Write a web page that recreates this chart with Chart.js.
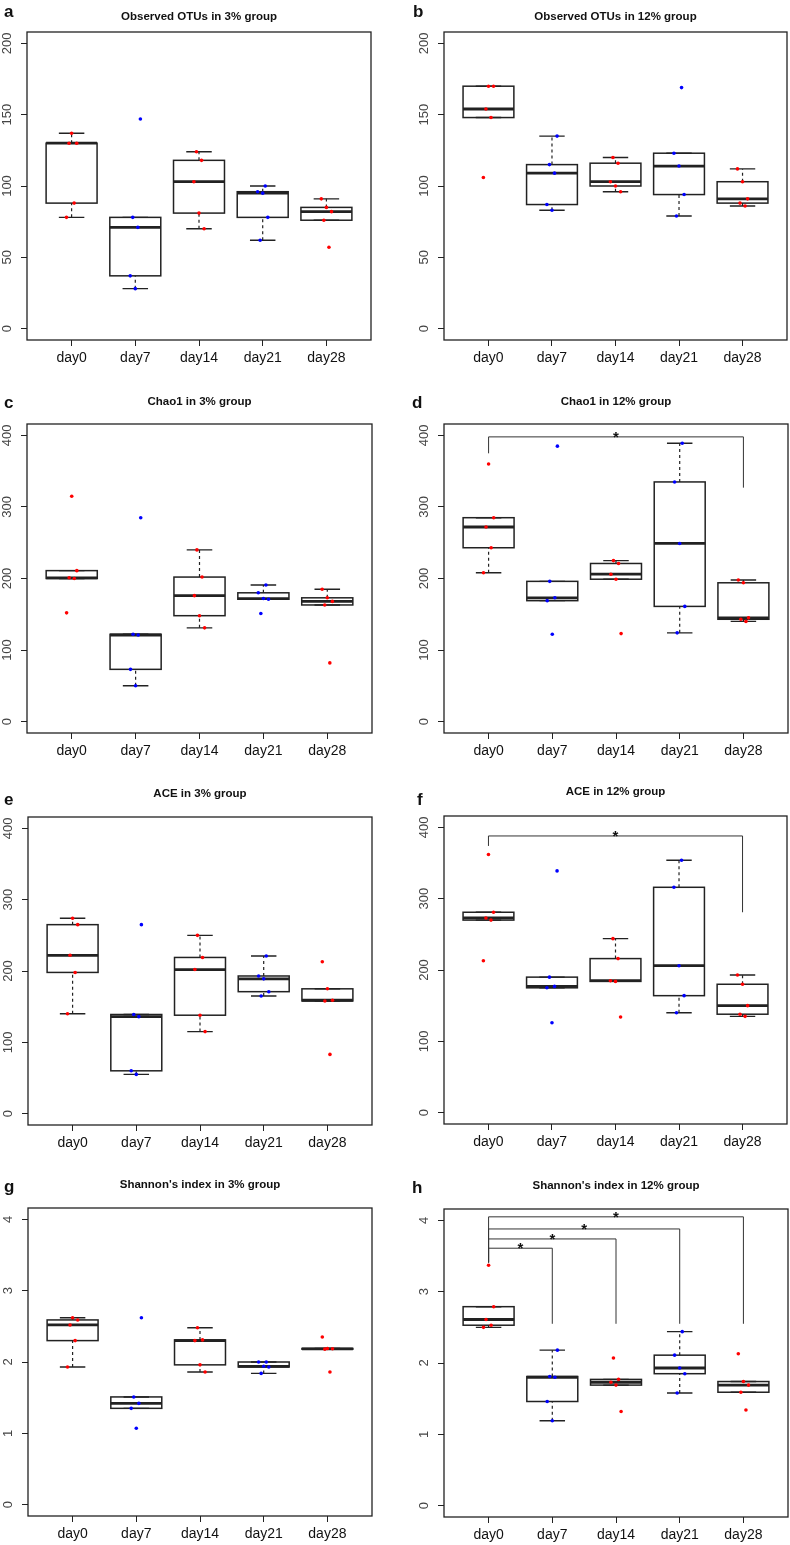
<!DOCTYPE html>
<html>
<head>
<meta charset="utf-8">
<script src="https://cdn.jsdelivr.net/npm/chart.js@4.4.1/dist/chart.umd.min.js"></script>
<style>
  html, body { margin: 0; padding: 0; background: #fff; }
  #fig { position: relative; width: 790px; height: 1545px; overflow: hidden; }
  #fig canvas { position: absolute; }
</style>
</head>
<body>
<div id="fig"></div>
<script>
// Categorias y ticks
const days = ['day0', 'day7', 'day14', 'day21', 'day28'];
const countTicks = [0, 50, 100, 150, 200];
const richTicks = [0, 100, 200, 300, 400];
const shannonTicks = [0, 1, 2, 3, 4];

// Valores por muestra (5 por dia)
const otus3 = [
    [78, 88, 130, 130, 137],
    [28, 37, 71, 78, 147],
    [70, 81, 103, 118, 124],
    [62, 78, 95, 96, 100],
    [57, 76, 82, 85, 91]
];
const otus12 = [
    [106, 148, 154, 170, 170],
    [83, 87, 109, 115, 135],
    [96, 100, 103, 116, 120],
    [79, 94, 114, 123, 169],
    [86, 88, 91, 103, 112]
];
const chao3 = [
    [152, 200, 201, 211, 315],
    [50, 73, 121, 122, 285],
    [131, 148, 176, 202, 240],
    [151, 171, 172, 180, 191],
    [82, 163, 168, 173, 185]
];
const chao12 = [
    [208, 243, 272, 285, 360],
    [122, 169, 173, 196, 385],
    [123, 199, 206, 221, 225],
    [124, 161, 249, 335, 389],
    [140, 143, 145, 194, 198]
];
const ace3 = [
    [140, 198, 222, 265, 274],
    [55, 60, 136, 139, 265],
    [115, 138, 202, 219, 250],
    [165, 171, 189, 193, 221],
    [83, 158, 159, 175, 213]
];
const ace12 = [
    [213, 270, 273, 281, 362],
    [126, 175, 177, 190, 339],
    [134, 184, 185, 216, 244],
    [140, 164, 206, 316, 354],
    [135, 138, 150, 180, 193]
];
const shannon3 = [
    [1.93, 2.30, 2.52, 2.59, 2.62],
    [1.07, 1.35, 1.42, 1.51, 2.62],
    [1.86, 1.96, 2.30, 2.31, 2.48],
    [1.84, 1.93, 1.94, 2.00, 2.00],
    [1.86, 2.18, 2.185, 2.19, 2.35]
];
const shannon12 = [
    [2.50, 2.53, 2.61, 2.79, 3.37],
    [1.19, 1.46, 1.80, 1.81, 2.18],
    [1.32, 1.69, 1.73, 1.77, 2.07],
    [1.58, 1.85, 1.93, 2.11, 2.44],
    [1.34, 1.59, 1.69, 1.74, 2.13]
];

// Comparaciones significativas: [desde, hasta, nivel barra, fin izq, fin der]
const chao12Sig = [[0, 4, 398, 375, 327]];
const ace12Sig = [[0, 4, 388, 374, 281]];
const shannon12Sig = [
    [0, 1, 3.61, 3.41, 2.55],
    [0, 2, 3.74, 3.41, 2.55],
    [0, 3, 3.88, 3.41, 2.55],
    [0, 4, 4.05, 3.41, 2.55]
];

const panels = [
    { letter: 'a', title: 'Observed OTUs in 3% group', values: otus3, ticks: countTicks, sig: [] },
    { letter: 'b', title: 'Observed OTUs in 12% group', values: otus12, ticks: countTicks, sig: [] },
    { letter: 'c', title: 'Chao1 in 3% group', values: chao3, ticks: richTicks, sig: [] },
    { letter: 'd', title: 'Chao1 in 12% group', values: chao12, ticks: richTicks, sig: chao12Sig },
    { letter: 'e', title: 'ACE in 3% group', values: ace3, ticks: richTicks, sig: [] },
    { letter: 'f', title: 'ACE in 12% group', values: ace12, ticks: richTicks, sig: ace12Sig },
    { letter: 'g', title: "Shannon's index in 3% group", values: shannon3, ticks: shannonTicks, sig: [] },
    { letter: 'h', title: "Shannon's index in 12% group", values: shannon12, ticks: shannonTicks, sig: shannon12Sig }
];

// Posicion de cada panel (px dentro de su canvas)
const layouts = [
    { left: 0,   top: 0,    pl: 27, pr: 371, pt: 32, pb: 340, titleY: 20, letterX: 4,  letterY: 17 },
    { left: 395, top: 0,    pl: 49, pr: 392, pt: 32, pb: 340, titleY: 20, letterX: 18, letterY: 17 },
    { left: 0,   top: 380,  pl: 27, pr: 372, pt: 44, pb: 353, titleY: 25, letterX: 4,  letterY: 28 },
    { left: 395, top: 380,  pl: 49, pr: 393, pt: 44, pb: 353, titleY: 25, letterX: 17, letterY: 28 },
    { left: 0,   top: 765,  pl: 28, pr: 372, pt: 52, pb: 360, titleY: 32, letterX: 4,  letterY: 40 },
    { left: 395, top: 765,  pl: 49, pr: 392, pt: 51, pb: 359, titleY: 30, letterX: 22, letterY: 40 },
    { left: 0,   top: 1155, pl: 28, pr: 372, pt: 53, pb: 361, titleY: 33, letterX: 4,  letterY: 37 },
    { left: 395, top: 1155, pl: 49, pr: 393, pt: 54, pb: 362, titleY: 34, letterX: 17, letterY: 38 }
];

const dotColors = ['#ff0000', '#0000ff', '#ff0000', '#0000ff', '#ff0000'];
const FONT = '"Liberation Sans", Arial, Helvetica, sans-serif';
const CW = 395, CH = 400, YAXIS_W = 27, XAXIS_H = 40;
const yLabelFont = '13px ' + FONT;

Chart.defaults.font.family = FONT;

// fivenum + bigotes (como boxplot.stats de R)
function boxStats(vals) {
    const x = vals.slice().sort((a, b) => a - b);
    const n = x.length;
    const n4 = Math.floor((n + 3) / 2) / 2;
    const d = [1, n4, (n + 1) / 2, n + 1 - n4, n];
    const f = d.map(k => 0.5 * (x[Math.floor(k) - 1] + x[Math.ceil(k) - 1]));
    const iqr = f[3] - f[1];
    const inside = x.filter(v => v >= f[1] - 1.5 * iqr && v <= f[3] + 1.5 * iqr);
    return { lo: Math.min(...inside), q1: f[1], med: f[2], q3: f[3], hi: Math.max(...inside) };
}

function jitter(i, j) {
    return (((i * 7 + j * 3) % 5) - 2) * 0.04;
}

const measureCtx = document.createElement('canvas').getContext('2d');
function widestLabel(ticks) {
    measureCtx.font = yLabelFont;
    return Math.max(...ticks.map(t => measureCtx.measureText(String(t)).width));
}

const boxPlugin = {
    id: 'boxes',
    beforeDatasetsDraw(chart) {
        const panel = chart.options.plugins.boxes.panel;
        const xs = chart.scales.x, ys = chart.scales.y;
        const ctx = chart.ctx;
        ctx.save();
        ctx.strokeStyle = '#222';
        panel.values.forEach((group, i) => {
            const s = boxStats(group);
            const c = i + 1;
            const xc = xs.getPixelForValue(c);
            const xl = xs.getPixelForValue(c - 0.4), xr = xs.getPixelForValue(c + 0.4);
            const sl = xs.getPixelForValue(c - 0.2), sr = xs.getPixelForValue(c + 0.2);
            // bigotes
            ctx.lineWidth = 1.2;
            ctx.setLineDash([3, 3]);
            ctx.beginPath();
            ctx.moveTo(xc, ys.getPixelForValue(s.lo)); ctx.lineTo(xc, ys.getPixelForValue(s.q1));
            ctx.moveTo(xc, ys.getPixelForValue(s.q3)); ctx.lineTo(xc, ys.getPixelForValue(s.hi));
            ctx.stroke();
            ctx.setLineDash([]);
            ctx.lineWidth = 1.4;
            ctx.beginPath();
            ctx.moveTo(sl, ys.getPixelForValue(s.lo)); ctx.lineTo(sr, ys.getPixelForValue(s.lo));
            ctx.moveTo(sl, ys.getPixelForValue(s.hi)); ctx.lineTo(sr, ys.getPixelForValue(s.hi));
            ctx.stroke();
            // caja
            const yq3 = ys.getPixelForValue(s.q3), yq1 = ys.getPixelForValue(s.q1);
            ctx.lineWidth = 1.5;
            ctx.strokeRect(xl, yq3, xr - xl, yq1 - yq3);
            // mediana
            ctx.lineWidth = 2.8;
            ctx.beginPath();
            ctx.moveTo(xl, ys.getPixelForValue(s.med)); ctx.lineTo(xr, ys.getPixelForValue(s.med));
            ctx.stroke();
        });
        ctx.restore();
    },
    afterDraw(chart) {
        const opts = chart.options.plugins.boxes;
        const panel = opts.panel, lay = opts.layout;
        const xs = chart.scales.x, ys = chart.scales.y;
        const ctx = chart.ctx;
        const a = chart.chartArea;
        ctx.save();
        // marco
        ctx.strokeStyle = '#222';
        ctx.lineWidth = 1.3;
        ctx.strokeRect(a.left, a.top, a.right - a.left, a.bottom - a.top);
        // comparaciones
        ctx.strokeStyle = '#333';
        ctx.lineWidth = 1;
        ctx.fillStyle = '#111';
        ctx.font = 'bold 15px ' + FONT;
        ctx.textAlign = 'center';
        ctx.textBaseline = 'alphabetic';
        panel.sig.forEach(([from, to, level, leftEnd, rightEnd]) => {
            const x1 = xs.getPixelForValue(from + 1), x2 = xs.getPixelForValue(to + 1);
            const yb = ys.getPixelForValue(level);
            ctx.beginPath();
            ctx.moveTo(x1, ys.getPixelForValue(leftEnd));
            ctx.lineTo(x1, yb);
            ctx.lineTo(x2, yb);
            ctx.lineTo(x2, ys.getPixelForValue(rightEnd));
            ctx.stroke();
            ctx.fillText('*', (x1 + x2) / 2, yb + 5);
        });
        // titulo y letra
        ctx.fillStyle = '#111';
        ctx.font = 'bold 11.5px ' + FONT;
        ctx.fillText(panel.title, (a.left + a.right) / 2, lay.titleY);
        ctx.textAlign = 'left';
        ctx.font = 'bold 17px ' + FONT;
        ctx.fillText(panel.letter, lay.letterX, lay.letterY);
        ctx.restore();
    }
};

function buildChart(panel, lay) {
    const canvas = document.createElement('canvas');
    canvas.width = CW;
    canvas.height = CH;
    canvas.style.left = lay.left + 'px';
    canvas.style.top = lay.top + 'px';
    canvas.style.width = CW + 'px';
    canvas.style.height = CH + 'px';
    document.getElementById('fig').appendChild(canvas);

    const pts = [];
    const colors = [];
    panel.values.forEach((group, i) => {
        group.forEach((v, j) => {
            pts.push({ x: i + 1 + jitter(i, j), y: v });
            colors.push(dotColors[i]);
        });
    });

    const ymax = panel.ticks[panel.ticks.length - 1];
    const labelPad = 19.5 - 6 - widestLabel(panel.ticks) / 2;

    new Chart(canvas, {
        type: 'scatter',
        data: {
            datasets: [{
                data: pts,
                pointRadius: 1.8,
                pointBorderWidth: 0,
                pointBackgroundColor: colors,
                pointHoverRadius: 1.8
            }]
        },
        options: {
            responsive: false,
            animation: false,
            devicePixelRatio: 1,
            events: [],
            layout: {
                padding: {
                    left: lay.pl - YAXIS_W,
                    right: CW - lay.pr,
                    top: lay.pt,
                    bottom: CH - lay.pb - XAXIS_H
                }
            },
            plugins: {
                legend: { display: false },
                tooltip: { enabled: false },
                boxes: { panel: panel, layout: lay }
            },
            scales: {
                x: {
                    type: 'linear',
                    min: 0.3,
                    max: 5.7,
                    afterBuildTicks: s => { s.ticks = days.map((d, i) => ({ value: i + 1 })); },
                    afterFit: s => { s.height = XAXIS_H; },
                    border: { display: false },
                    grid: { drawOnChartArea: false, drawTicks: true, tickLength: 6, color: '#222', lineWidth: 1 },
                    ticks: {
                        callback: v => days[v - 1],
                        maxRotation: 0,
                        minRotation: 0,
                        padding: 4,
                        color: '#111',
                        font: { size: 14 }
                    }
                },
                y: {
                    type: 'linear',
                    min: -0.04 * ymax,
                    max: 1.04 * ymax,
                    afterBuildTicks: s => { s.ticks = panel.ticks.map(v => ({ value: v })); },
                    afterFit: s => { s.width = YAXIS_W; },
                    border: { display: false },
                    grid: { drawOnChartArea: false, drawTicks: true, tickLength: 6, color: '#222', lineWidth: 1 },
                    ticks: {
                        minRotation: 90,
                        maxRotation: 90,
                        crossAlign: 'center',
                        padding: labelPad,
                        color: '#444',
                        font: { size: 13 }
                    }
                }
            }
        },
        plugins: [boxPlugin]
    });
}

panels.forEach((p, k) => buildChart(p, layouts[k]));
</script>
</body>
</html>
